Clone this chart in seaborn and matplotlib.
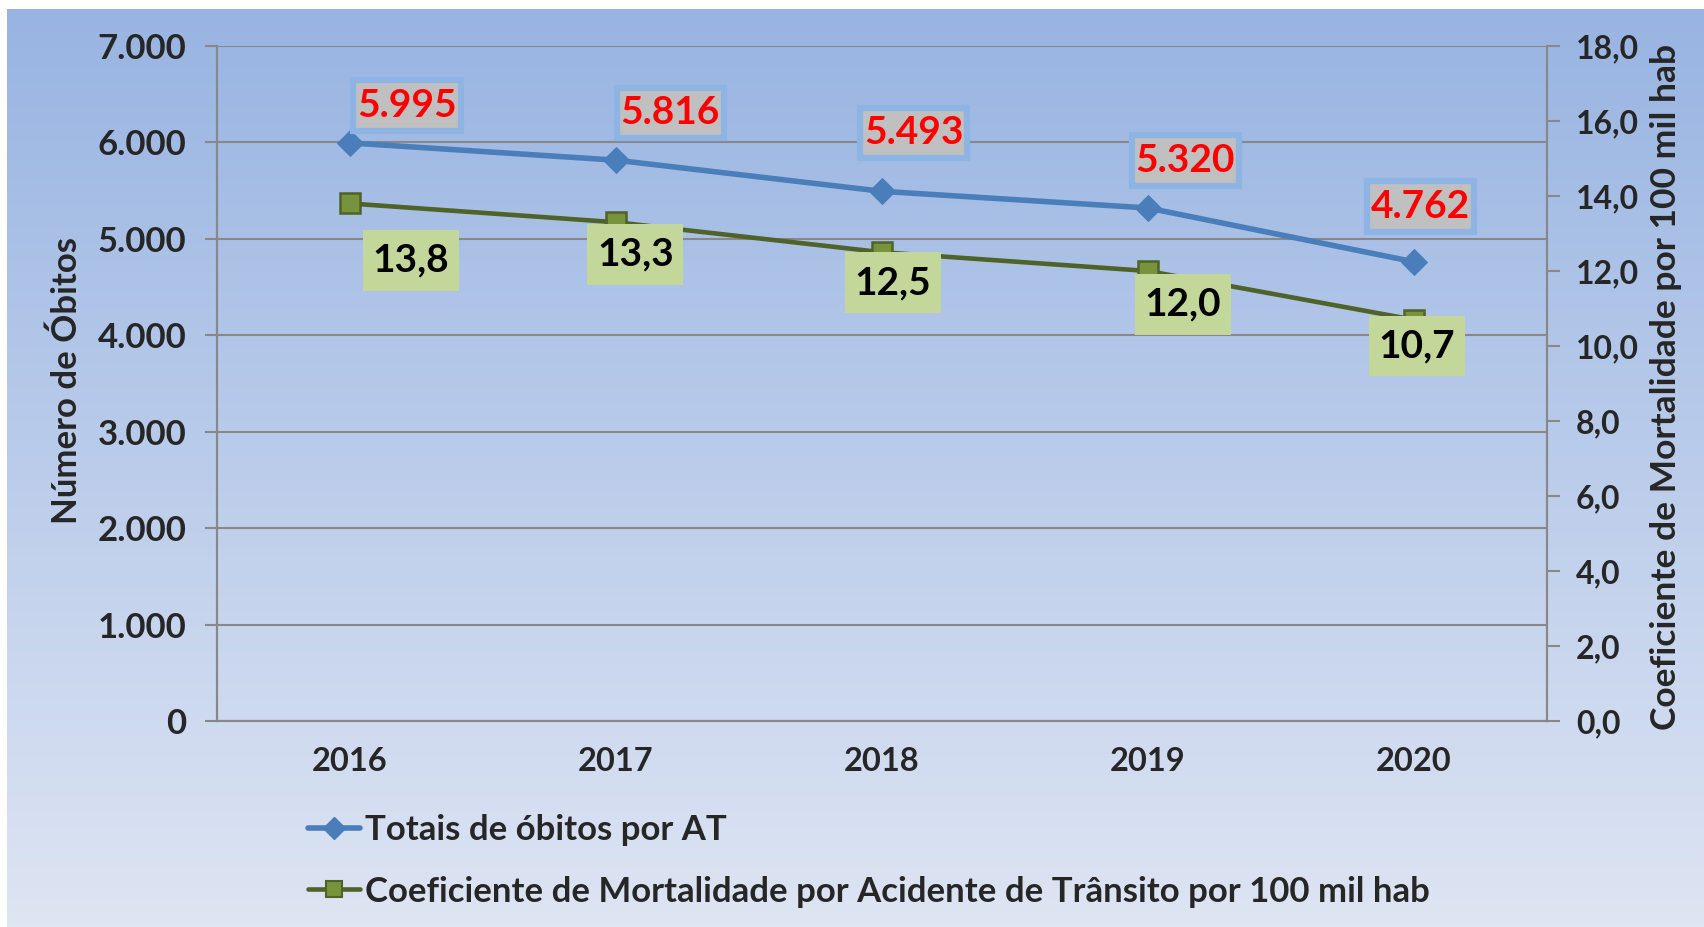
import numpy as np
import pandas as pd
import seaborn as sns, matplotlib.pyplot as plt
from matplotlib.lines import Line2D
from matplotlib.path import Path
from matplotlib.ticker import FuncFormatter, MultipleLocator

sns.set_theme(style="white")
plt.rcParams['font.family'] = ['Lato', 'DejaVu Sans']
plt.rcParams['font.weight'] = 'bold'

years = ["2016", "2017", "2018", "2019", "2020"]
obitos = [5995, 5816, 5493, 5320, 4762]
coef = [13.8, 13.3, 12.5, 12.0, 10.7]
obitos_lbl = ["5.995", "5.816", "5.493", "5.320", "4.762"]
coef_lbl = ["13,8", "13,3", "12,5", "12,0", "10,7"]

# label offsets (points)
off_obitos = [(41, 27), (39, 34), (23, 42), (27, 34), (5, 40)]
off_coef = [(44, -41), (14, -23), (8, -22), (25, -24), (2, -19)]

df = pd.DataFrame({"pos": np.arange(len(years)), "year": years,
                   "obitos": obitos, "coef": coef})

blue = "#4A7EBB"
dgreen = "#4F6228"
mgreen = "#77933C"
grey = "#888888"


def pad_box(padx, pady):
    # rectangle box with separate x / y padding
    def box(x0, y0, w, h, mutation_size):
        px, py = padx * mutation_size, pady * mutation_size
        return Path([(x0 - px, y0 - py), (x0 + w + px, y0 - py),
                     (x0 + w + px, y0 + h + py), (x0 - px, y0 + h + py),
                     (x0 - px, y0 - py)], closed=True)
    return box


fig = plt.figure(figsize=(17.04, 9.27), dpi=100)

# gradient background
bg = fig.add_axes([0.004, 0, 0.996, 0.99], zorder=-10)
grad = np.linspace(0, 1, 256)[:, None]
top_c = np.array([152, 180, 226]) / 255
bot_c = np.array([222, 229, 243]) / 255
img = top_c[None, None, :] * (1 - grad[:, :, None]) + bot_c[None, None, :] * grad[:, :, None]
bg.imshow(img, aspect="auto", extent=[0, 1, 0, 1])
bg.axis("off")

ax = fig.add_axes([0.1273, 0.2222, 0.7805, 0.7282])
ax.set_facecolor("none")
ax2 = ax.twinx()
ax2.set_facecolor("none")

sns.lineplot(data=df, x="pos", y="obitos", ax=ax, color=blue, lw=4,
             marker="D", markersize=13, markeredgecolor=blue, zorder=3,
             label="Totais de óbitos por AT", legend=False)
sns.lineplot(data=df, x="pos", y="coef", ax=ax2, color=dgreen, lw=3.3,
             marker="s", markersize=15, markerfacecolor=mgreen,
             markeredgecolor=dgreen, markeredgewidth=1.8, zorder=3,
             label="Coeficiente de Mortalidade por Acidente de Trânsito por 100 mil hab",
             legend=False)

ax.set_xlim(-0.5, 4.5)
ax.set_ylim(0, 7000)
ax2.set_ylim(0, 18)
ax.yaxis.set_major_locator(MultipleLocator(1000))
ax2.yaxis.set_major_locator(MultipleLocator(2))
ax.yaxis.set_major_formatter(FuncFormatter(lambda v, p: f"{int(v):,}".replace(",", ".")))
ax2.yaxis.set_major_formatter(FuncFormatter(lambda v, p: f"{v:.1f}".replace(".", ",")))

ax.set_xticks(df["pos"])
ax.set_xticklabels(years)
ax.set_xticks(np.arange(-0.5, 5, 1), minor=True)
ax.tick_params(axis="x", which="major", length=0, pad=19, labelsize=23.5)
ax.tick_params(axis="x", which="minor", length=9, width=1.5, color=grey, direction="out")
ax.tick_params(axis="y", length=9, width=1.5, color=grey, direction="out", pad=13, labelsize=25, left=True)
ax2.tick_params(axis="y", length=9, width=1.5, color=grey, direction="out", pad=12, labelsize=23, right=True)
ax.set_xlabel("")
ax.set_ylabel("")
ax2.set_ylabel("")

ax.grid(axis="y", color=grey, lw=1.5)
ax.grid(axis="x", visible=False)
ax2.grid(False)
for a in (ax, ax2):
    a.spines["top"].set_visible(False)
    for s in ("left", "right", "bottom"):
        a.spines[s].set_color(grey)
        a.spines[s].set_linewidth(1.5)

for i in range(len(years)):
    ax.annotate(obitos_lbl[i], xy=(i, obitos[i]), xytext=off_obitos[i],
                textcoords="offset points", ha="center", va="center",
                fontsize=28, fontweight="bold", color="#FF0000", zorder=6,
                bbox=dict(boxstyle=pad_box(0.1, 0.2), fc="#C0C0C0", ec="#8EB4E3", lw=4.5))
    ax2.annotate(coef_lbl[i], xy=(i, coef[i]), xytext=off_coef[i],
                 textcoords="offset points", ha="center", va="center",
                 fontsize=28, fontweight="bold", color="black", zorder=6,
                 bbox=dict(boxstyle=pad_box(0.25, 0.33), fc="#C4D79B", ec="none"))

fig.text(0.0393, 0.590, "Número de Óbitos", rotation=90, ha="center", va="center",
         fontsize=25, fontweight="bold")
fig.text(0.9777, 0.5825, "Coeficiente de Mortalidade por 100 mil hab", rotation=90,
         ha="center", va="center", fontsize=25.5, fontweight="bold")

handles = [
    Line2D([], [], color=blue, lw=4, marker="D", markersize=11, markeredgecolor=blue),
    Line2D([], [], color=dgreen, lw=3.3, marker="s", markersize=12,
           markerfacecolor=mgreen, markeredgecolor=dgreen, markeredgewidth=1.5),
]
labels = ["Totais de óbitos por AT",
          "Coeficiente de Mortalidade por Acidente de Trânsito por 100 mil hab"]
fig.legend(handles, labels, loc="center left", bbox_to_anchor=(0.1805, 0.0714),
           frameon=False, handlelength=1.5, handletextpad=0.15,
           labelspacing=0.85, borderpad=0, borderaxespad=0,
           prop=dict(weight="bold", size=25))

fig.savefig("out.png", dpi=100)
